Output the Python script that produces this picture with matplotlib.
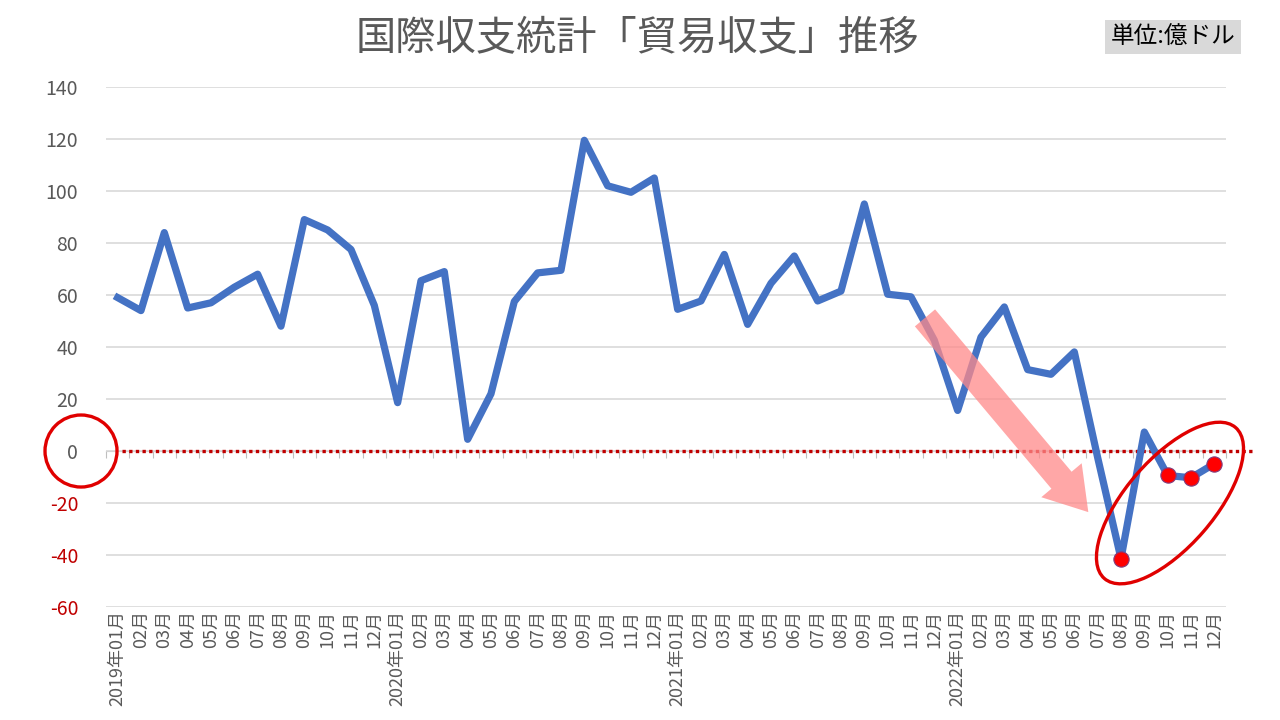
import numpy as np
import matplotlib
matplotlib.use("Agg")
import matplotlib.pyplot as plt
from matplotlib.patches import Ellipse
from matplotlib.transforms import ScaledTranslation, blended_transform_factory

plt.rcParams['font.family'] = ['Noto Sans CJK JP', 'DejaVu Sans']
plt.rcParams['axes.unicode_minus'] = False

# データ（億ドル）
years = [2019, 2020, 2021, 2022]
months = ["01", "02", "03", "04", "05", "06", "07", "08", "09", "10", "11", "12"]
balance = [
    59, 54, 84, 55, 57, 63, 68, 48, 89, 85, 77.5, 56,       # 2019
    18.6, 65.5, 69, 4.5, 22, 57.5, 68.5, 69.5, 119.5, 102, 99.5, 105,  # 2020
    54.5, 57.7, 75.6, 48.7, 64.5, 75, 57.7, 61.5, 95, 60.3, 59.3, 42.6,  # 2021
    15.6, 43.8, 55.4, 31.3, 29.5, 38.1, -2.5, -41.4, 7.3, -9.4, -10.3, -4.9,  # 2022
]
highlight = [43, 45, 46, 47]  # 2022年08, 10, 11, 12月

labels = []
for y in years:
    for m in months:
        labels.append(f"{y}年{m}月" if m == "01" else f"{m}月")

x = np.arange(len(balance))
gray = "#595959"
red = "#E00000"

fig = plt.figure(figsize=(12.8, 7.2), dpi=100)
ax = fig.add_axes([0.0828, 0.1569, 0.875, 0.7223])

# グリッド
ax.set_ylim(-60, 140)
ax.set_xlim(-0.5, len(balance) - 0.5)
ax.set_yticks(np.arange(-60, 141, 20))
ax.yaxis.grid(True, color="#D9D9D9", linewidth=1.2)
ax.set_axisbelow(True)
for s in ax.spines.values():
    s.set_visible(False)
ax.tick_params(axis="y", length=0, pad=20, labelsize=14, labelcolor=gray)
for t, v in zip(ax.get_yticklabels(), ax.get_yticks()):
    t.set_horizontalalignment("right")
    if v < 0:
        t.set_color("#C00000")

ax.set_xticks(x)
ax.set_xticklabels(labels, rotation=90, fontsize=13, color=gray)
ax.tick_params(axis="x", length=0, pad=2)

# 0の軸線と目盛
sec = ax.secondary_xaxis(0.3)
sec.set_xticks(np.arange(-0.5, len(balance), 1))
sec.tick_params(axis="x", length=5, color="#BFBFBF", labelbottom=False)
sec.spines["bottom"].set_color("#BFBFBF")

# 線
ax.plot(x, balance, color="#4472C4", linewidth=5.2, solid_joinstyle="round", zorder=3)
ax.plot(x[highlight], np.array(balance)[highlight], linestyle="none", marker="o",
        markersize=11, markerfacecolor="#FF0000", markeredgecolor="#7F3F7F",
        markeredgewidth=0.8, zorder=4)

# 0の赤い点線
ax.plot([0.2, 48.7], [0, 0], color="#C00000", linewidth=2.4,
        linestyle=(0, (1, 1)), clip_on=False, zorder=2)

# 矢印
ax.annotate("", xy=(41.6, -23.5), xytext=(34.6, 51.2),
            arrowprops=dict(arrowstyle="simple,head_length=1.5,head_width=1.9,tail_width=0.95",
                            mutation_scale=20, color="#FF8A8A", alpha=0.75,
                            shrinkA=0, shrinkB=0, linewidth=0), zorder=5)

# 楕円（8月〜12月）
ell = Ellipse((0, 0), 2.0, 0.88, angle=49, fill=False, edgecolor=red, linewidth=2.4,
              transform=fig.dpi_scale_trans + ScaledTranslation(45.1, -20, ax.transData),
              clip_on=False, zorder=6)
ax.add_patch(ell)

# 0ラベルの丸
circ = Ellipse((0, 0), 0.72, 0.72, fill=False, edgecolor=red, linewidth=2.4,
               transform=fig.dpi_scale_trans + ScaledTranslation(
                   -0.0223, 0, blended_transform_factory(ax.transAxes, ax.transData)),
               clip_on=False, zorder=6)
ax.add_patch(circ)

# タイトル
fig.text(0.498, 0.947, "国際収支統計「貿易収支」推移", ha="center", va="center",
         fontsize=29, color=gray)
fig.text(0.9164, 0.9486, "単位:億ドル", ha="center", va="center", fontsize=17,
         color="black",
         bbox=dict(boxstyle="square,pad=0.22", facecolor="#D9D9D9", edgecolor="none"))

fig.savefig("out.png", dpi=100)
